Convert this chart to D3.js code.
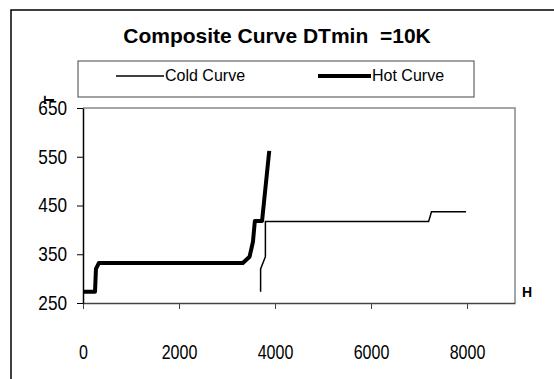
<!DOCTYPE html>
<html>
<head>
<meta charset="utf-8">
<script src="https://cdn.jsdelivr.net/npm/d3@7"></script>
<style>
  body { margin: 0; background: #fff; }
  .tick-lbl { font-family: "Liberation Sans", Arial, sans-serif; font-size: 20px; fill: #000; }
</style>
</head>
<body>
<div id="chart"></div>
<script>
// composite curves, H vs T
var coldH = [3700, 3700, 3800, 3800, 7200, 7260, 7980];
var coldT = [273, 320, 345, 417, 417, 437, 437];
var hotH = [0, 250, 270, 330, 3330, 3470, 3540, 3580, 3730, 3880];
var hotT = [273, 273, 320, 332, 332, 345, 375, 418, 418, 562];
var xTicks = [0, 2000, 4000, 6000, 8000];
var yTicks = [250, 350, 450, 550, 650];
var legendNames = ["Cold Curve", "Hot Curve"];

var width = 554, height = 379;
var svg = d3.select("#chart").append("svg")
    .attr("width", width)
    .attr("height", height);

// outer frame
svg.append("rect")
    .attr("x", 11).attr("y", 10)
    .attr("width", 560).attr("height", 400)
    .style("fill", "none")
    .style("stroke", "#000")
    .style("stroke-width", 1.5);

svg.append("text")
    .attr("x", 277).attr("y", 43)
    .attr("text-anchor", "middle")
    .style("font-family", "Liberation Sans, Arial, sans-serif")
    .style("font-weight", "bold")
    .style("font-size", "21px")
    .style("white-space", "pre")
    .text("Composite Curve DTmin  =10K");

var x = d3.scaleLinear().domain([0, 9000]).range([83, 515]);
var y = d3.scaleLinear().domain([250, 650]).range([303, 108]);

// plot border (top, right)
svg.append("path")
    .attr("d", "M" + x(0) + "," + y(650) + "H" + x(9000) + "V" + y(250))
    .style("fill", "none")
    .style("stroke", "#888")
    .style("stroke-width", 1.5);

var xAxis = svg.append("g")
    .attr("transform", "translate(0," + y(250) + ")")
    .call(d3.axisBottom(x).tickValues(xTicks).tickFormat(d3.format("d"))
        .tickSize(6).tickPadding(36).tickSizeOuter(0));
xAxis.select(".domain").style("stroke", "#444").style("stroke-width", 1.5);
xAxis.selectAll(".tick line").style("stroke", "#444");
xAxis.selectAll("text").attr("class", "tick-lbl").attr("font-size", null).attr("font-family", null);

var yAxis = svg.append("g")
    .attr("transform", "translate(" + x(0) + ",0)")
    .call(d3.axisLeft(y).tickValues(yTicks).tickFormat(d3.format("d"))
        .tickSize(6).tickPadding(10).tickSizeOuter(0));
yAxis.select(".domain").style("stroke", "#000").style("stroke-width", 1.5);
yAxis.selectAll(".tick line").style("stroke", "#000");
yAxis.selectAll("text").attr("class", "tick-lbl").attr("font-size", null).attr("font-family", null);

// narrow digits like the original
xAxis.selectAll("text").attr("transform", "scale(0.8,1)");
yAxis.selectAll("text").attr("x", -16 / 0.86).attr("transform", "scale(0.86,1)");

// axis titles
svg.append("text")
    .attr("transform", "translate(54,100) rotate(-90)")
    .attr("text-anchor", "middle")
    .style("font-family", "Liberation Sans, Arial, sans-serif")
    .style("font-weight", "bold")
    .style("font-size", "14px")
    .text("T");
svg.append("text")
    .attr("x", 522).attr("y", 297)
    .style("font-family", "Liberation Sans, Arial, sans-serif")
    .style("font-weight", "bold")
    .style("font-size", "14px")
    .text("H");

var line = d3.line()
    .x(function(d) { return x(d[0]); })
    .y(function(d) { return y(d[1]); });

var cold = d3.zip(coldH, coldT);
var hot = d3.zip(hotH, hotT);

svg.append("path")
    .attr("d", line(hot))
    .style("fill", "none")
    .style("stroke", "#000")
    .style("stroke-width", 4)
    .style("stroke-linejoin", "round");

svg.append("path")
    .attr("d", line(cold))
    .style("fill", "none")
    .style("stroke", "#000")
    .style("stroke-width", 1.5);

// legend
svg.append("rect")
    .attr("x", 78).attr("y", 61)
    .attr("width", 396).attr("height", 36)
    .style("fill", "#fff")
    .style("stroke", "#444")
    .style("stroke-width", 1);

var legend = [
    {name: legendNames[0], x1: 116, x2: 164, w: 1.5},
    {name: legendNames[1], x1: 318, x2: 371, w: 4}
];
legend.forEach(function(d) {
    svg.append("line")
        .attr("x1", d.x1).attr("x2", d.x2)
        .attr("y1", 76).attr("y2", 76)
        .style("stroke", "#000")
        .style("stroke-width", d.w);
    svg.append("text")
        .attr("x", d.x2 + 1).attr("y", 81)
        .style("font-family", "Liberation Sans, Arial, sans-serif")
        .style("font-size", "16px")
        .text(d.name);
});
</script>
</body>
</html>
